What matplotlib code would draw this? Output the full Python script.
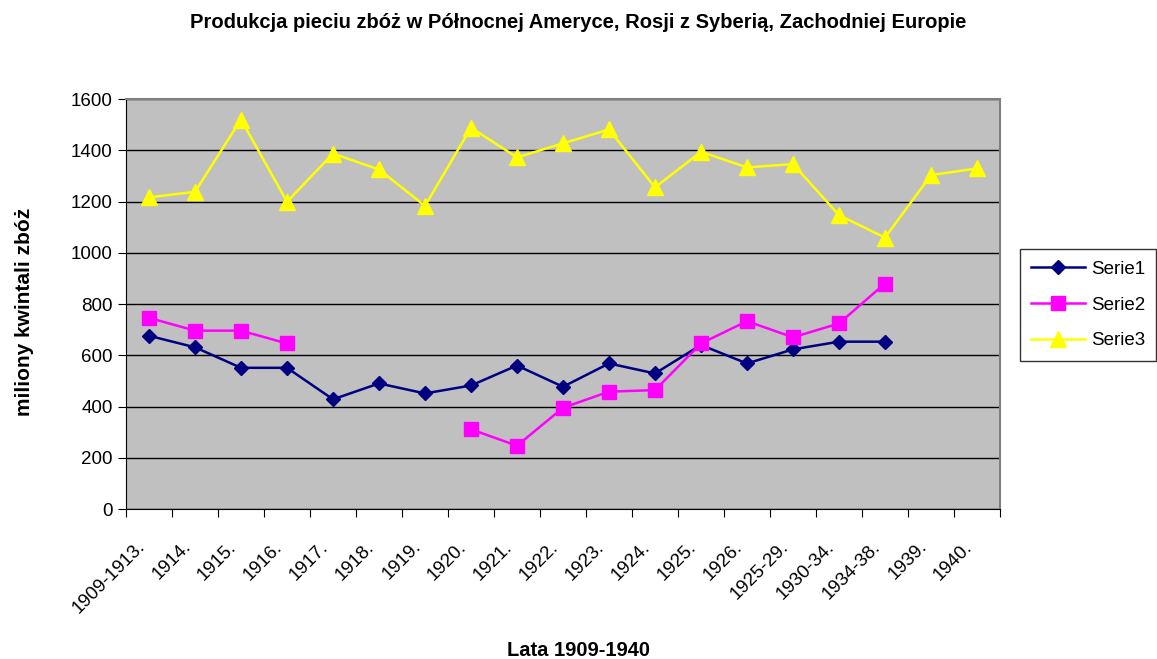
import matplotlib
matplotlib.use("Agg")
import matplotlib.pyplot as plt
import matplotlib.transforms as mtransforms
import numpy as np

plt.rcParams['font.family'] = ['Liberation Sans', 'DejaVu Sans']

# dane
lata = ['1909-1913.', '1914.', '1915.', '1916.', '1917.', '1918.', '1919.',
        '1920.', '1921.', '1922.', '1923.', '1924.', '1925.', '1926.',
        '1925-29.', '1930-34.', '1934-38.', '1939.', '1940.']
serie1 = [676, 631, 551, 551, 428, 490, 451, 482, 560, 477, 568, 529, 640,
          568, 623, 653, 653, None, None]
serie2 = [746, 696, 696, 646, None, None, None, 311, 247, 395, 458, 464, 646,
          733, 670, 724, 880, None, None]
serie3 = [1216, 1238, 1520, 1199, 1387, 1325, 1183, 1488, 1372, 1427, 1481,
          1255, 1394, 1333, 1346, 1147, 1059, 1303, 1329]

def arr(v):
    return np.array([np.nan if a is None else a for a in v], dtype=float)

fig = plt.figure(figsize=(11.57, 6.59), dpi=100)
ax = fig.add_axes([126/1157, 1-509/659, (1000-126)/1157, 410/659])
ax.set_facecolor('#C0C0C0')

x = np.arange(len(lata))
ax.plot(x, arr(serie1), color='#000080', lw=1.8, marker='D', ms=7.5, label='Serie1')
ax.plot(x, arr(serie2), color='#FF00FF', lw=1.8, marker='s', ms=10, label='Serie2')
ax.plot(x, arr(serie3), color='#FFFF00', lw=1.8, marker='^', ms=11, label='Serie3')

ax.set_xlim(-0.5, len(lata) - 0.5)
ax.set_ylim(0, 1600)
ax.set_yticks(range(0, 1601, 200))
ax.yaxis.grid(True, color='black', lw=1)
ax.set_axisbelow(True)

ax.set_xticks(np.arange(-0.5, len(lata), 1))
ax.set_xticklabels([])
ax.set_xticks(x, minor=True)
ax.set_xticklabels(lata, minor=True, rotation=45, ha='right', va='top',
                   rotation_mode='anchor', fontsize=13.5)
ax.tick_params(axis='x', which='minor', length=0, pad=21)
ax.tick_params(axis='x', which='major', length=6, direction='out')
ax.tick_params(axis='y', length=6, direction='out', labelsize=13.5)

# przesuniecie etykiet w lewo
przes = mtransforms.ScaledTranslation(-13/100, 0, fig.dpi_scale_trans)
for lab in ax.get_xticklabels(minor=True):
    lab.set_transform(lab.get_transform() + przes)

for s in ['top', 'right']:
    ax.spines[s].set_color('#808080')
    ax.spines[s].set_linewidth(1.5)
for s in ['left', 'bottom']:
    ax.spines[s].set_color('black')

fig.text(0.5, 1-23/659, 'Produkcja pieciu zbóż w Północnej Ameryce, Rosji z Syberią, Zachodniej Europie',
         ha='center', va='center', fontsize=14.5, fontweight='bold')
fig.text(0.5, 1-650/659, 'Lata 1909-1940', ha='center', va='center',
         fontsize=14.5, fontweight='bold')
fig.text(25/1157, 1-312/659, 'miliony kwintali zbóż', ha='center', va='center',
         rotation=90, fontsize=15, fontweight='bold')

leg = fig.legend(loc='center', bbox_to_anchor=(1088/1157, 1-305/659),
                 frameon=True, fancybox=False, edgecolor='black', fontsize=13.5,
                 handlelength=2.9, borderpad=0.6, labelspacing=1.0,
                 handletextpad=0.3, borderaxespad=0)
leg.get_frame().set_linewidth(1)

fig.savefig('out.png', dpi=100)
